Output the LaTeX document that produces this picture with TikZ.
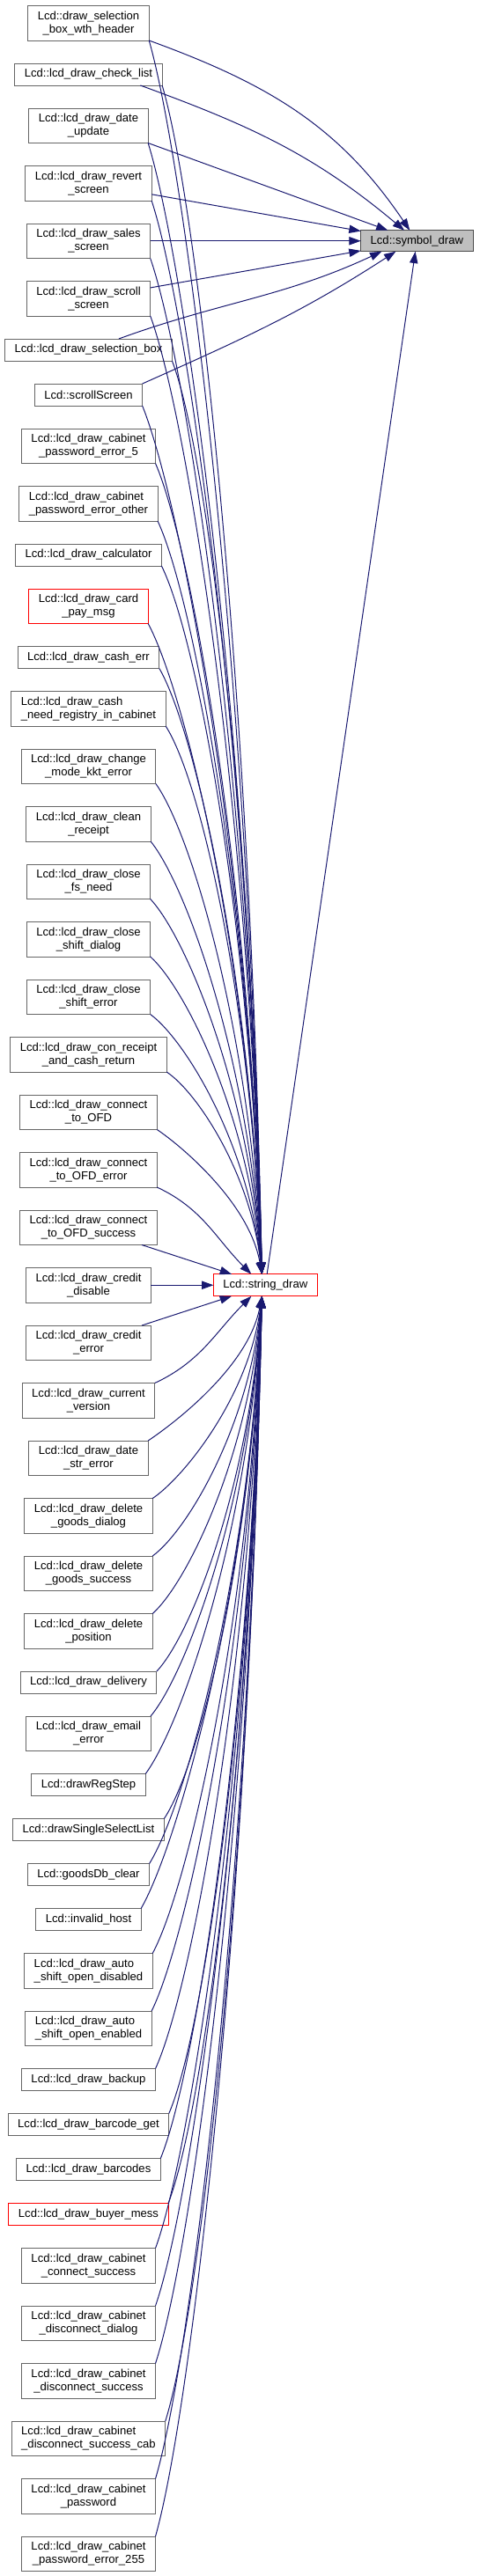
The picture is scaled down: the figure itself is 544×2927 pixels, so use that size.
\documentclass[tikz,border=0pt]{standalone}
\usepackage{fontspec}
\setmainfont{Liberation Sans}
\usepackage{xcolor}
\usetikzlibrary{arrows.meta,positioning,calc}
\definecolor{edgeblue}{RGB}{25,25,112}
\definecolor{boxgrey}{RGB}{102,102,102}
\definecolor{rootgrey}{RGB}{191,191,191}

\begin{document}
\begin{tikzpicture}[x=0.75pt,y=0.75pt,node distance=19.5pt,
                    fn/.style={draw=boxgrey,fill=white,line width=0.75pt,align=center,outer sep=0pt,
                      font=\fontsize{9.8}{11.25}\selectfont,inner xsep=8.25pt,inner ysep=1pt,
                      minimum height=18.75pt},
                    fn2/.style={fn,minimum height=29.625pt},
                    trunc/.style={draw=red},
                    root/.style={fn,fill=rootgrey,draw=black!70,minimum height=18pt},
                    call/.style={color=edgeblue,line width=0.75pt,-{Triangle[length=10pt,width=7pt]}}]

  \useasboundingbox (0,0) rectangle (544,-2927);

  \node[fn2] (1) at (100.5,-26.25) {Lcd::draw\_selection\\\_box\_wth\_header};
  \node[fn] (2) [below=of 1] {Lcd::lcd\_draw\_check\_list};
  \node[fn2] (3) [below=of 2] {Lcd::lcd\_draw\_date\\\_update};
  \node[fn2] (4) [below=of 3] {Lcd::lcd\_draw\_revert\\\_screen};
  \node[fn2] (5) [below=of 4] {Lcd::lcd\_draw\_sales\\\_screen};
  \node[fn2] (6) [below=of 5] {Lcd::lcd\_draw\_scroll\\\_screen};
  \node[fn] (7) [below=of 6] {Lcd::lcd\_draw\_selection\_box};
  \node[fn] (8) [below=of 7] {Lcd::scrollScreen};
  \node[fn2] (9) [below=of 8] {Lcd::lcd\_draw\_cabinet\\\_password\_error\_5};
  \node[fn2,align=left] (10) [below=of 9] {Lcd::lcd\_draw\_cabinet\\\_password\_error\_other};
  \node[fn] (11) [below=of 10] {Lcd::lcd\_draw\_calculator};
  \node[fn2,trunc] (12) [below=of 11] {Lcd::lcd\_draw\_card\\\_pay\_msg};
  \node[fn] (13) [below=of 12] {Lcd::lcd\_draw\_cash\_err};
  \node[fn2,align=left] (14) [below=of 13] {Lcd::lcd\_draw\_cash\\\_need\_registry\_in\_cabinet};
  \node[fn2] (15) [below=of 14] {Lcd::lcd\_draw\_change\\\_mode\_kkt\_error};
  \node[fn2] (16) [below=of 15] {Lcd::lcd\_draw\_clean\\\_receipt};
  \node[fn2] (17) [below=of 16] {Lcd::lcd\_draw\_close\\\_fs\_need};
  \node[fn2] (18) [below=of 17] {Lcd::lcd\_draw\_close\\\_shift\_dialog};
  \node[fn2] (19) [below=of 18] {Lcd::lcd\_draw\_close\\\_shift\_error};
  \node[fn2] (20) [below=of 19] {Lcd::lcd\_draw\_con\_receipt\\\_and\_cash\_return};
  \node[fn2] (21) [below=of 20] {Lcd::lcd\_draw\_connect\\\_to\_OFD};
  \node[fn2] (22) [below=of 21] {Lcd::lcd\_draw\_connect\\\_to\_OFD\_error};
  \node[fn2] (23) [below=of 22] {Lcd::lcd\_draw\_connect\\\_to\_OFD\_success};
  \node[fn2] (24) [below=of 23] {Lcd::lcd\_draw\_credit\\\_disable};
  \node[fn2] (25) [below=of 24] {Lcd::lcd\_draw\_credit\\\_error};
  \node[fn2] (26) [below=of 25] {Lcd::lcd\_draw\_current\\\_version};
  \node[fn2] (27) [below=of 26] {Lcd::lcd\_draw\_date\\\_str\_error};
  \node[fn2] (28) [below=of 27] {Lcd::lcd\_draw\_delete\\\_goods\_dialog};
  \node[fn2] (29) [below=of 28] {Lcd::lcd\_draw\_delete\\\_goods\_success};
  \node[fn2] (30) [below=of 29] {Lcd::lcd\_draw\_delete\\\_position};
  \node[fn] (31) [below=of 30] {Lcd::lcd\_draw\_delivery};
  \node[fn2] (32) [below=of 31] {Lcd::lcd\_draw\_email\\\_error};
  \node[fn] (33) [below=of 32] {Lcd::drawRegStep};
  \node[fn] (34) [below=of 33] {Lcd::drawSingleSelectList};
  \node[fn] (35) [below=of 34] {Lcd::goodsDb\_clear};
  \node[fn] (36) [below=of 35] {Lcd::invalid\_host};
  \node[fn2,align=left] (37) [below=of 36] {Lcd::lcd\_draw\_auto\\\_shift\_open\_disabled};
  \node[fn2,align=left] (38) [below=of 37] {Lcd::lcd\_draw\_auto\\\_shift\_open\_enabled};
  \node[fn] (39) [below=of 38] {Lcd::lcd\_draw\_backup};
  \node[fn] (40) [below=of 39] {Lcd::lcd\_draw\_barcode\_get};
  \node[fn] (41) [below=of 40] {Lcd::lcd\_draw\_barcodes};
  \node[fn,trunc] (42) [below=of 41] {Lcd::lcd\_draw\_buyer\_mess};
  \node[fn2] (43) [below=of 42] {Lcd::lcd\_draw\_cabinet\\\_connect\_success};
  \node[fn2] (44) [below=of 43] {Lcd::lcd\_draw\_cabinet\\\_disconnect\_dialog};
  \node[fn2] (45) [below=of 44] {Lcd::lcd\_draw\_cabinet\\\_disconnect\_success};
  \node[fn2,align=left] (46) [below=of 45] {Lcd::lcd\_draw\_cabinet\\\_disconnect\_success\_cab};
  \node[fn2] (47) [below=of 46] {Lcd::lcd\_draw\_cabinet\\\_password};
  \node[fn2] (48) [below=of 47] {Lcd::lcd\_draw\_cabinet\\\_password\_error\_255};

  \node[fn,trunc] (sd) [right=53.25pt of 24] {Lcd::string\_draw};
  \node[root] (sym) [right=179.25pt of 5] {Lcd::symbol\_draw};

  \coordinate (sdtop) at ([xshift=-3pt]sd.north);
  \coordinate (sdbot) at ([xshift=-3pt]sd.south);

  % callers of string_draw
  \foreach \k in {1,...,21}
    \draw[call] let \p1=(\k.south east), \p2=(sdtop) in
      (\p1) .. controls ({\x1+min(30pt,0.15*abs(\y2-\y1))},{\y1+0.1*(\y2-\y1)})
               and ({\x2+0.12*(\x1-\x2)},{\y2+0.5*(\y1-\y2)}) .. (\p2);
  \foreach \k in {27,...,48}
    \draw[call] let \p1=(\k.north east), \p2=(sdbot) in
      (\p1) .. controls ({\x1+min(30pt,0.15*abs(\y2-\y1))},{\y1+0.1*(\y2-\y1)})
               and ({\x2+0.12*(\x1-\x2)},{\y2+0.5*(\y1-\y2)}) .. (\p2);

  \path[call]
    (22.south east) edge[out=-25,in=135] ([xshift=-12pt]sd.north)
    (23) edge (sd)
    (24) edge (sd)
    (25) edge (sd)
    (26.north east) edge[out=25,in=-135] ([xshift=-12pt]sd.south);

  % callers of symbol_draw
  \path[call]
    (1.south east) edge[out=-20,in=124] (sym)
    (2.-12)        edge[out=-20,in=140] (sym)
    (3.south east) edge (sym)
    (4) edge (sym)
    (5) edge (sym)
    (6) edge (sym)
    (7) edge[out=20,in=-155] ([xshift=-30pt]sym.south)
    (8.north east) edge[out=24,in=-147] ([xshift=-18pt]sym.south)
    (sd) edge (sym);

\end{tikzpicture}
\end{document}
